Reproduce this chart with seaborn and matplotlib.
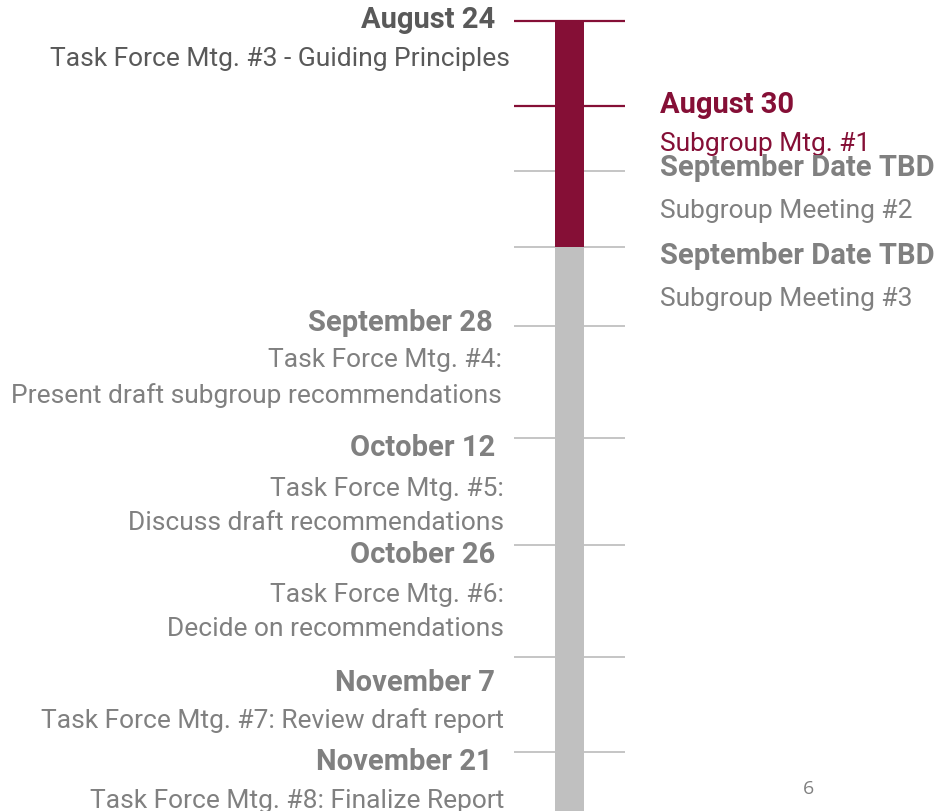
import matplotlib.pyplot as plt
import seaborn as sns

# Timeline events (tick order top -> bottom)
dates = ["August 24", "August 30", "September Date TBD", "September Date TBD",
         "September 28", "October 12", "October 26", "November 7", "November 21"]
descriptions = ["Task Force Mtg. #3 - Guiding Principles", "Subgroup Mtg. #1",
                "Subgroup Meeting #2", "Subgroup Meeting #3",
                "Task Force Mtg. #4:\nPresent draft subgroup recommendations",
                "Task Force Mtg. #5:\nDiscuss draft recommendations",
                "Task Force Mtg. #6:\nDecide on recommendations",
                "Task Force Mtg. #7: Review draft report",
                "Task Force Mtg. #8: Finalize Report"]
sides = ["left", "right", "right", "right", "left", "left", "left", "left", "left"]
status = ["done", "done", "pending", "pending", "pending", "pending", "pending", "pending", "pending"]
page_number = "6"

# layout (pixel positions on the timeline)
tick_pos = [22, 107, 172, 248, 327, 439, 546, 658, 753]
date_pos = [20, 105, 168, 256, 323, 448, 555, 683, 762]
desc_pos = [59, 144, 211, 299, 378, 506, 612, 721, 801]
desc_right = [510, 0, 0, 0, 502, 504, 504, 504, 504]
date_right = [495, 0, 0, 0, 493, 495, 495, 495, 493]
progress_end = 248
timeline_end = 812

MAROON = "#850F36"
BAR_GRAY = "#C0C0C0"
TEXT_GRAY = "#808080"
DARK_GRAY = "#595959"

sns.set_theme(style="white")
plt.rcParams['font.family'] = ['Roboto', 'DejaVu Sans']

fig = plt.figure(figsize=(9.39, 8.12), dpi=100)
ax = fig.add_axes([0, 0, 1, 1])
ax.set_xlim(0, 939)
ax.set_ylim(812, 0)
ax.axis("off")

bar_x, bar_w = 569.5, 29
ax.bar(bar_x, timeline_end - tick_pos[0], bottom=tick_pos[0], width=bar_w,
       color=BAR_GRAY, linewidth=0, zorder=2)
ax.bar(bar_x, progress_end - tick_pos[0], bottom=tick_pos[0], width=bar_w,
       color=MAROON, linewidth=0, zorder=3)

for i, y in enumerate(tick_pos):
    col = MAROON if status[i] == "done" else BAR_GRAY
    ax.hlines(y, 514, 625, color=col, lw=1.6 if status[i] == "done" else 1.3, zorder=1)

for i in range(len(dates)):
    if sides[i] == "left":
        dcol = DARK_GRAY if i == 0 else TEXT_GRAY
        ax.text(date_right[i], date_pos[i], dates[i], ha="right", va="center", fontsize=21,
                fontweight="bold", color=dcol)
        ax.text(desc_right[i], desc_pos[i], descriptions[i], ha="right", va="center",
                fontsize=19, color=dcol, linespacing=1.55, multialignment="right")
    else:
        col = MAROON if status[i] == "done" else TEXT_GRAY
        ax.text(660, date_pos[i], dates[i], ha="left", va="center", fontsize=21,
                fontweight="bold", color=col)
        ax.text(660, desc_pos[i], descriptions[i], ha="left", va="center", fontsize=19,
                color=col)

ax.text(808, 789, page_number, ha="center", va="center", fontsize=14,
        color=TEXT_GRAY, family=["Open Sans", "DejaVu Sans"])

fig.savefig("out.png", dpi=100)
